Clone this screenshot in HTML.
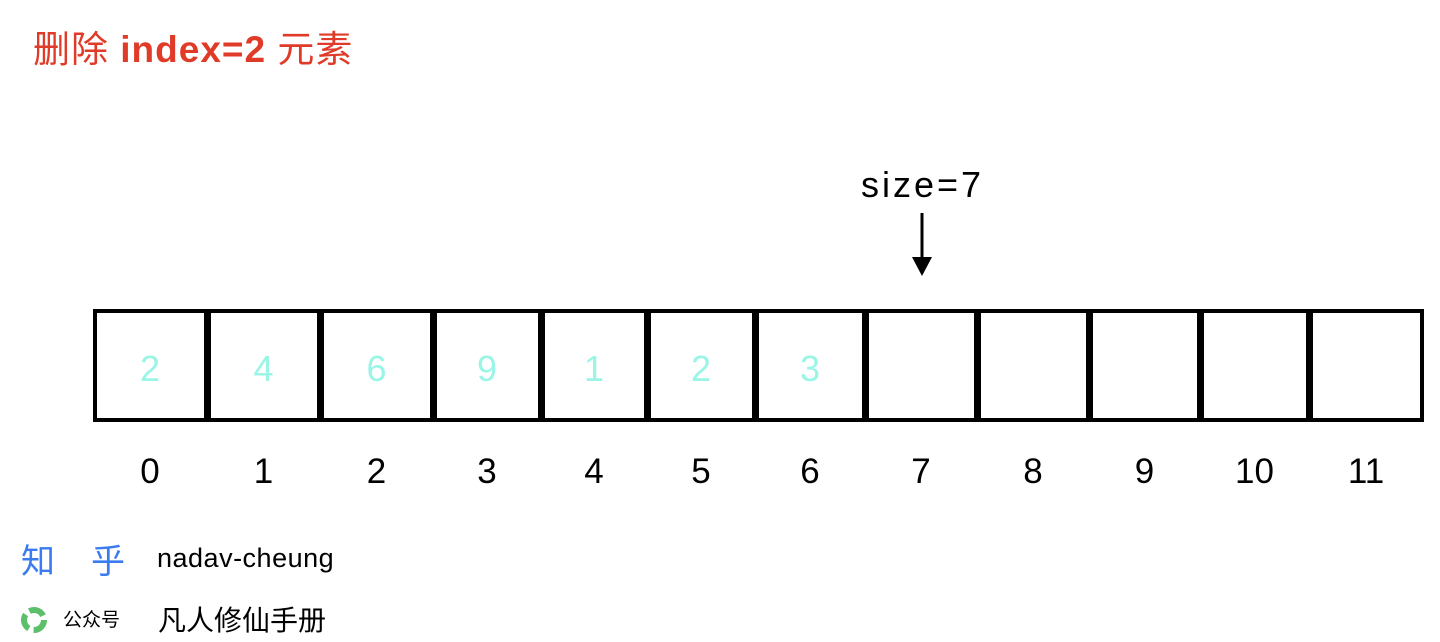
<!DOCTYPE html>
<html><head><meta charset="utf-8">
<style>
html,body{margin:0;padding:0;background:#fff;}
body{width:1440px;height:642px;position:relative;overflow:hidden;font-family:"Liberation Sans","Noto Sans CJK SC",sans-serif;}
.abs{position:absolute;}
.cell{position:absolute;box-sizing:border-box;border:4px solid #000;top:309px;height:113px;}
.val{position:absolute;top:347px;font-size:36px;color:#9af5e6;transform:translateX(-50%);line-height:44px;}
.idx{position:absolute;top:452px;font-size:35px;color:#000;transform:translateX(-50%);line-height:40px;}
</style></head>
<body>
<div class="abs" style="left:33px;top:27px;font-size:37px;letter-spacing:1px;color:#e03a28;line-height:46px;">删除 <b style="font-weight:bold">index=2</b> 元素</div>
<div class="abs" style="left:861px;top:163px;font-size:36px;letter-spacing:3px;line-height:44px;color:#000;">size=7</div>
<svg class="abs" style="left:900px;top:210px" width="44" height="70">
<line x1="22" y1="3" x2="22" y2="50" stroke="#000" stroke-width="3"/>
<polygon points="12,47 32,47 22,66" fill="#000"/>
</svg>
<div id="arr"></div>
<div class="abs" style="left:21px;top:539px;font-size:34px;color:#3a7cf0;letter-spacing:36px;line-height:46px;">知乎</div>
<div class="abs" style="left:157px;top:541px;font-size:27px;letter-spacing:0.5px;color:#000;line-height:34px;">nadav-cheung</div>
<svg class="abs" style="left:20px;top:606px" width="28" height="28" viewBox="0 0 28 28">
<circle cx="14" cy="14" r="10" fill="none" stroke="#5cbf6a" stroke-width="6" stroke-dasharray="16 5"/>
</svg>
<div class="abs" style="left:63px;top:609px;font-size:19px;color:#000;line-height:24px;">公众号</div>
<div class="abs" style="left:158px;top:602px;font-size:28px;color:#000;line-height:38px;">凡人修仙手册</div>
<script>
const values = [2,4,6,9,1,2,3];
const indices = ['0','1','2','3','4','5','6','7','8','9','10','11'];
const size = 7;
const edges = [93,207,320,433,541,647,755,865,977,1089,1200,1309,1423];
const arr = document.getElementById('arr');
for (let i = 0; i < indices.length; i++) {
  const c = document.createElement('div');
  c.className = 'cell';
  c.style.left = edges[i] + 'px';
  c.style.width = (edges[i+1] - edges[i] + 1) + 'px';
  
  
  arr.appendChild(c);
  const cx = (edges[i] + edges[i+1]) / 2;
  if (i < values.length && i < size) {
    const v = document.createElement('div');
    v.className = 'val';
    v.style.left = cx + 'px';
    v.textContent = values[i];
    
    
    arr.appendChild(v);
  }
  const l = document.createElement('div');
  l.className = 'idx';
  l.style.left = cx + 'px';
  l.textContent = indices[i];
  
  
  arr.appendChild(l);
}
</script>
</body></html>
